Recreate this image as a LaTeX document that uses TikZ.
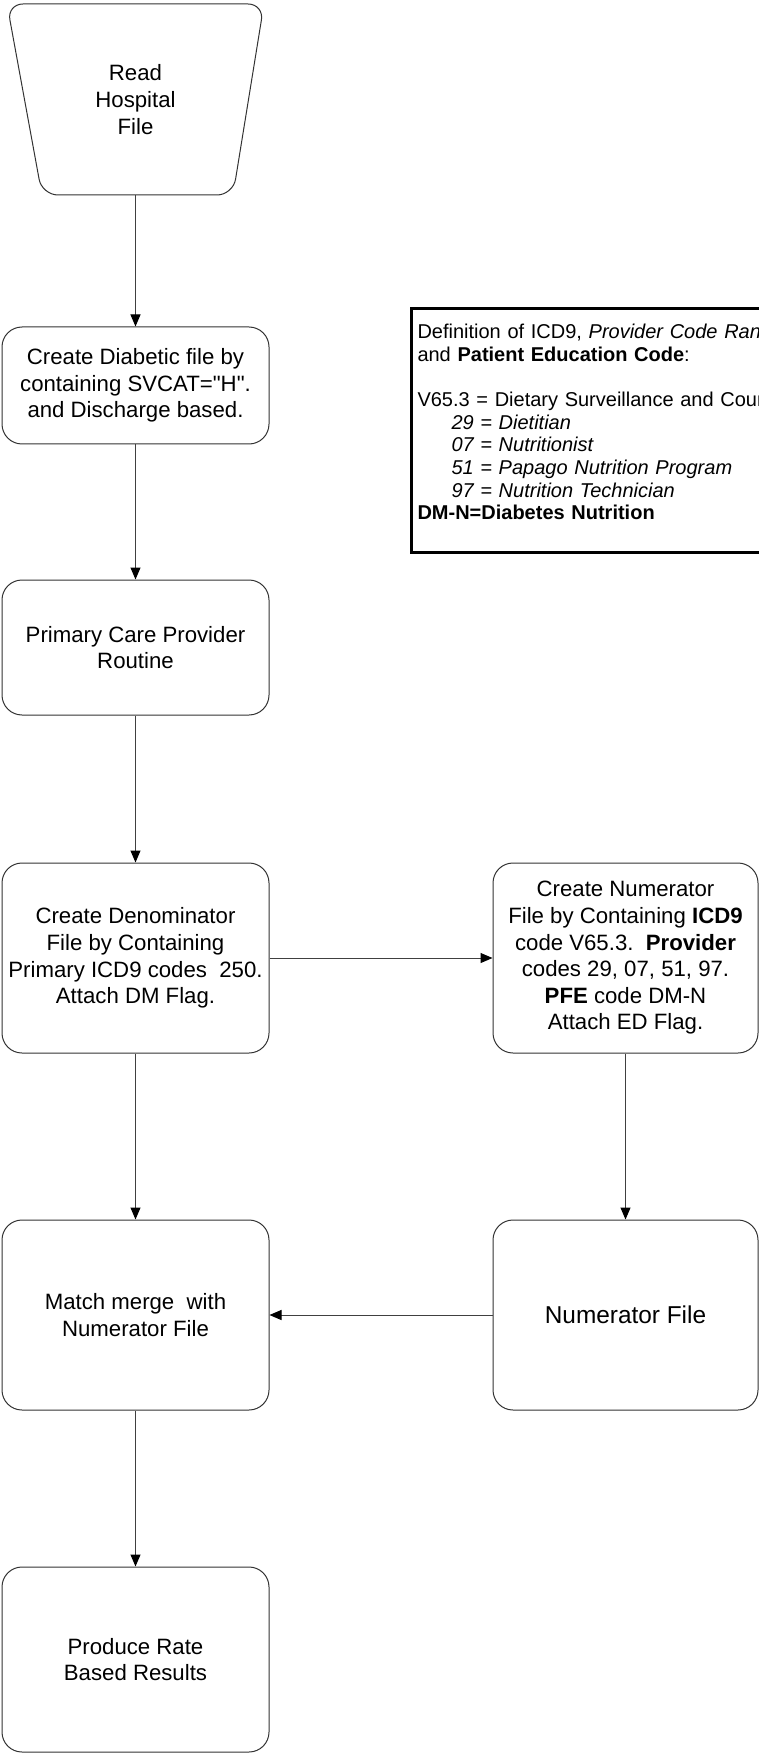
\documentclass[tikz,border=0pt]{standalone}
\usepackage{fontspec}
\setmainfont{Liberation Sans}
\usetikzlibrary{arrows.meta}

\tikzset{
  proc/.style={draw=black!80, line width=0.5pt, rounded corners=10pt, align=center,
    minimum width=133.5pt, inner sep=1pt, font=\fontsize{11.1}{13.3}\selectfont},
  flow/.style={draw=black!75, line width=0.5pt, -{Triangle[length=6pt,width=5pt,color=black]}},
}

\begin{document}
\begin{tikzpicture}[x=0.5pt,y=-0.5pt]
    \clip (0,0) rectangle (759,1754);
    % Start %
    \draw[black!80, line width=0.5pt, rounded corners=8pt] (7,4) -- (264,4) -- (233,195) -- (42,195) -- cycle;
    \node[align=center, minimum height=95.5pt, inner sep=0pt, font=\fontsize{11.1}{13.7}\selectfont] (read) at (135.5,99.5) {Read\\Hospital\\File};

    % Left column %
    \node[proc, minimum height=58.5pt] (diab) at (135.5,385.5) {Create Diabetic file by\\containing SVCAT=\textquotedbl H\textquotedbl.\\and Discharge based.};
    \node[proc, minimum height=67.5pt] (pcp) at (135.5,647.5) {Primary Care Provider\\Routine};
    \node[proc, minimum height=95pt] (denom) at (135.5,958) {Create Denominator\\File by Containing\\Primary ICD9 codes\ \ 250.\\Attach DM Flag.};
    \node[proc, minimum height=95pt] (match) at (135.5,1315) {Match merge\ \ with\\Numerator File};
    \node[proc, minimum height=92.5pt] (rate) at (135.5,1659.5) {Produce Rate\\Based Results};

    % Right column %
    \node[proc, minimum width=132.5pt, minimum height=95pt] (numcr) at (625.5,958) {Create Numerator\\File by Containing \textbf{ICD9}\\code V65.3.\ \ \textbf{Provider}\\codes 29, 07, 51, 97.\\\textbf{PFE} code DM-N\\Attach ED Flag.};
    \node[proc, minimum width=132.5pt, minimum height=95pt, font=\fontsize{12.2}{14}\selectfont] (numfile) at (625.5,1315) {Numerator File};

    % Definitions %
    \node[draw=black, line width=1.5pt, anchor=north west, align=left, text width=250pt,
      inner xsep=3pt, inner ysep=8pt, font=\fontsize{10}{11.3}\selectfont] (defs) at (410,307)
      {Definition of ICD9, \textit{Provider Code Ranges}\\
       and \textbf{Patient Education Code}:\\[11.3pt]
       V65.3 = Dietary Surveillance and Counseling\\
       \hspace*{17pt}\textit{29 = Dietitian}\\
       \hspace*{17pt}\textit{07 = Nutritionist}\\
       \hspace*{17pt}\textit{51 = Papago Nutrition Program}\\
       \hspace*{17pt}\textit{97 = Nutrition Technician}\\
       \textbf{DM-N=Diabetes Nutrition}\\[-3pt]
       \mbox{}};

    % Arrows %
    \draw[flow] (read) -- (diab);
    \draw[flow] (diab) -- (pcp);
    \draw[flow] (pcp) -- (denom);
    \draw[flow] (denom) -- (match);
    \draw[flow] (match) -- (rate);
    \draw[flow] (denom) -- (numcr);
    \draw[flow] (numcr) -- (numfile);
    \draw[flow] (numfile) -- (match);
\end{tikzpicture}
\end{document}
